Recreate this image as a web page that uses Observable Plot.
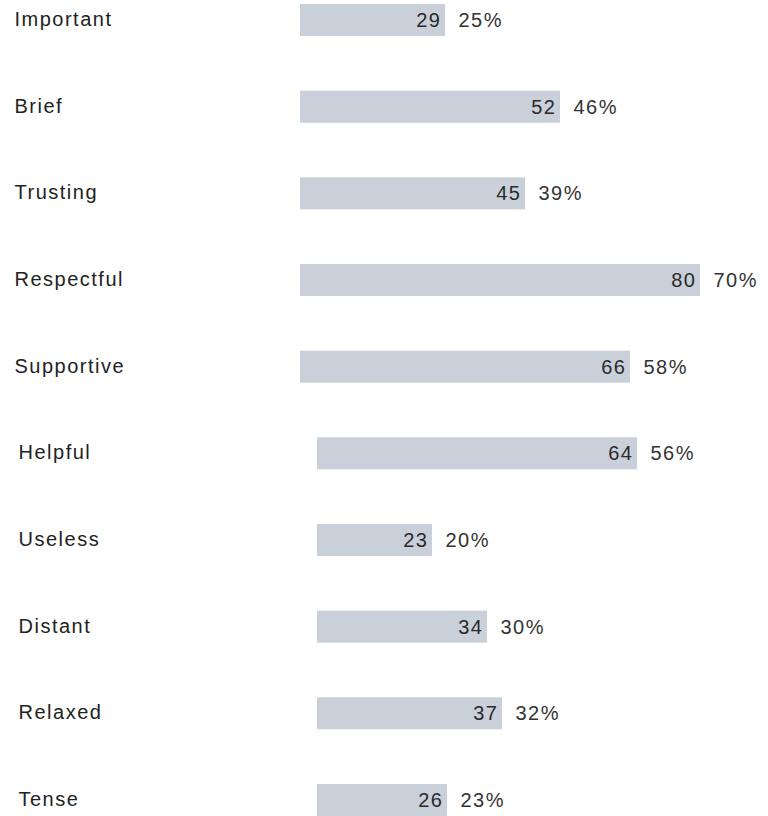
<!DOCTYPE html>
<html>
<head>
<meta charset="utf-8">
<script src="https://cdn.jsdelivr.net/npm/d3@7"></script>
<script src="https://cdn.jsdelivr.net/npm/@observablehq/plot@0.6"></script>
<style>
  html, body { margin: 0; padding: 0; background: #fff; }
  #chart { width: 768px; height: 816px; overflow: hidden; }
  #chart svg text { letter-spacing: 1.5px; }
</style>
</head>
<body>
<div id="chart"></div>
<script>
const categories = ["Important", "Brief", "Trusting", "Respectful", "Supportive", "Helpful", "Useless", "Distant", "Relaxed", "Tense"];
const counts = [29, 52, 45, 80, 66, 64, 23, 34, 37, 26];
const percents = [25, 46, 39, 70, 58, 56, 20, 30, 32, 23];
const groups = ["A", "A", "A", "A", "A", "B", "B", "B", "B", "B"];

const data = categories.map((c, i) => ({
  category: c, count: counts[i], pct: percents[i], group: groups[i]
}));
const gA = data.filter(d => d.group === "A");
const gB = data.filter(d => d.group === "B");

const font = "Liberation Sans, Arial, Helvetica, sans-serif";
const offB = 17;

const chart = Plot.plot({
  width: 768,
  height: 816,
  marginLeft: 300,
  marginRight: 0,
  marginTop: 4,
  marginBottom: 0,
  style: { fontFamily: font, background: "#fff" },
  x: { domain: [0, 93.6], axis: null },
  y: { domain: categories, axis: null, paddingInner: 0.63, paddingOuter: 0, round: false },
  marks: [
    Plot.barX(gA, { x: "count", y: "category", fill: "#c9d0da" }),
    Plot.barX(gB, { x: "count", y: "category", fill: "#c9d0da", dx: offB }),
    Plot.text(gA, { x: "count", y: "category", text: d => String(d.count), textAnchor: "end", dx: -4, fontSize: 20, fill: "#2a2a2a" }),
    Plot.text(gB, { x: "count", y: "category", text: d => String(d.count), textAnchor: "end", dx: offB - 4, fontSize: 20, fill: "#2a2a2a" }),
    Plot.text(gA, { x: "count", y: "category", text: d => d.pct + "%", textAnchor: "start", dx: 13, fontSize: 20, fill: "#333" }),
    Plot.text(gB, { x: "count", y: "category", text: d => d.pct + "%", textAnchor: "start", dx: offB + 13, fontSize: 20, fill: "#333" }),
    Plot.text(gA, { y: "category", text: "category", frameAnchor: "left", textAnchor: "start", dx: -286, dy: -1, fontSize: 20, fill: "#222" }),
    Plot.text(gB, { y: "category", text: "category", frameAnchor: "left", textAnchor: "start", dx: -282, dy: -1, fontSize: 20, fill: "#222" })
  ]
});
document.getElementById("chart").appendChild(chart);
</script>
</body>
</html>
